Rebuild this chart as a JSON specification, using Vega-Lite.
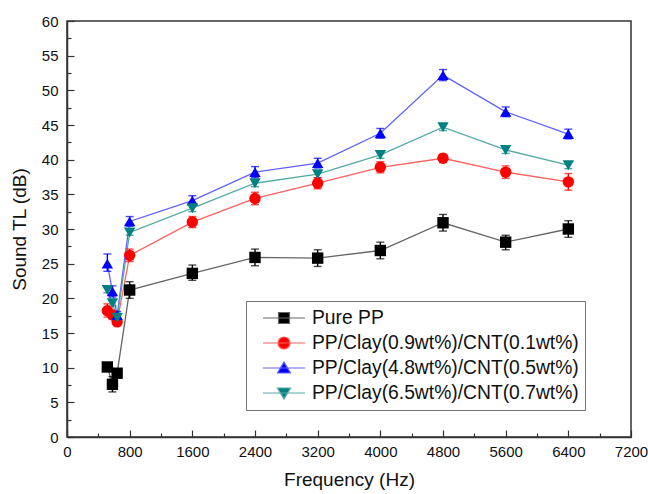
{
  "$schema": "https://vega.github.io/schema/vega-lite/v6.json",
  "autosize": "none",
  "width": 564,
  "height": 416,
  "padding": {"left": 67, "top": 21, "right": 17, "bottom": 57},
  "background": "white",
  "config": {
    "font": "Liberation Sans",
    "view": {"stroke": "#333", "strokeWidth": 1.5},
    "axis": {"grid": false, "domainColor": "#333", "domainWidth": 1.5, "tickColor": "#333", "tickWidth": 1.2, "labelColor": "#111", "titleColor": "#111", "labelFontSize": 15, "titleFontSize": 19, "titleFontWeight": "normal"}
  },
  "data": {"values": [
    {"s": "Pure PP", "f": 515, "tl": 10.1, "lo": 9.7, "hi": 10.5},
    {"s": "Pure PP", "f": 580, "tl": 7.6, "lo": 6.5, "hi": 8.7},
    {"s": "Pure PP", "f": 640, "tl": 9.2, "lo": 8.9, "hi": 9.5},
    {"s": "Pure PP", "f": 800, "tl": 21.2, "lo": 20.0, "hi": 22.4},
    {"s": "Pure PP", "f": 1600, "tl": 23.6, "lo": 22.6, "hi": 24.8},
    {"s": "Pure PP", "f": 2400, "tl": 25.9, "lo": 24.7, "hi": 27.1},
    {"s": "Pure PP", "f": 3200, "tl": 25.8, "lo": 24.6, "hi": 27.0},
    {"s": "Pure PP", "f": 4000, "tl": 26.9, "lo": 25.7, "hi": 28.1},
    {"s": "Pure PP", "f": 4800, "tl": 30.9, "lo": 29.7, "hi": 32.1},
    {"s": "Pure PP", "f": 5600, "tl": 28.1, "lo": 27.0, "hi": 29.1},
    {"s": "Pure PP", "f": 6400, "tl": 30.0, "lo": 28.8, "hi": 31.2},
    {"s": "PP/Clay(0.9wt%)/CNT(0.1wt%)", "f": 515, "tl": 18.2, "lo": 17.3, "hi": 19.2},
    {"s": "PP/Clay(0.9wt%)/CNT(0.1wt%)", "f": 580, "tl": 17.6, "lo": 17.0, "hi": 18.2},
    {"s": "PP/Clay(0.9wt%)/CNT(0.1wt%)", "f": 640, "tl": 16.6, "lo": 16.1, "hi": 17.1},
    {"s": "PP/Clay(0.9wt%)/CNT(0.1wt%)", "f": 800, "tl": 26.2, "lo": 25.3, "hi": 27.1},
    {"s": "PP/Clay(0.9wt%)/CNT(0.1wt%)", "f": 1600, "tl": 31.0, "lo": 30.2, "hi": 31.8},
    {"s": "PP/Clay(0.9wt%)/CNT(0.1wt%)", "f": 2400, "tl": 34.4, "lo": 33.5, "hi": 35.3},
    {"s": "PP/Clay(0.9wt%)/CNT(0.1wt%)", "f": 3200, "tl": 36.6, "lo": 35.8, "hi": 37.4},
    {"s": "PP/Clay(0.9wt%)/CNT(0.1wt%)", "f": 4000, "tl": 38.9, "lo": 38.1, "hi": 39.7},
    {"s": "PP/Clay(0.9wt%)/CNT(0.1wt%)", "f": 4800, "tl": 40.2, "lo": 39.6, "hi": 40.8},
    {"s": "PP/Clay(0.9wt%)/CNT(0.1wt%)", "f": 5600, "tl": 38.2, "lo": 37.3, "hi": 39.1},
    {"s": "PP/Clay(0.9wt%)/CNT(0.1wt%)", "f": 6400, "tl": 36.8, "lo": 35.6, "hi": 38.0},
    {"s": "PP/Clay(4.8wt%)/CNT(0.5wt%)", "f": 515, "tl": 25.0, "lo": 23.9, "hi": 26.4},
    {"s": "PP/Clay(4.8wt%)/CNT(0.5wt%)", "f": 580, "tl": 21.0, "lo": 20.2, "hi": 21.8},
    {"s": "PP/Clay(4.8wt%)/CNT(0.5wt%)", "f": 640, "tl": 17.6, "lo": 17.1, "hi": 18.1},
    {"s": "PP/Clay(4.8wt%)/CNT(0.5wt%)", "f": 800, "tl": 31.1, "lo": 30.4, "hi": 31.8},
    {"s": "PP/Clay(4.8wt%)/CNT(0.5wt%)", "f": 1600, "tl": 34.1, "lo": 33.4, "hi": 34.8},
    {"s": "PP/Clay(4.8wt%)/CNT(0.5wt%)", "f": 2400, "tl": 38.2, "lo": 37.4, "hi": 39.0},
    {"s": "PP/Clay(4.8wt%)/CNT(0.5wt%)", "f": 3200, "tl": 39.5, "lo": 38.8, "hi": 40.2},
    {"s": "PP/Clay(4.8wt%)/CNT(0.5wt%)", "f": 4000, "tl": 43.8, "lo": 43.1, "hi": 44.5},
    {"s": "PP/Clay(4.8wt%)/CNT(0.5wt%)", "f": 4800, "tl": 52.2, "lo": 51.4, "hi": 53.0},
    {"s": "PP/Clay(4.8wt%)/CNT(0.5wt%)", "f": 5600, "tl": 46.9, "lo": 46.2, "hi": 47.6},
    {"s": "PP/Clay(4.8wt%)/CNT(0.5wt%)", "f": 6400, "tl": 43.7, "lo": 43.0, "hi": 44.4},
    {"s": "PP/Clay(6.5wt%)/CNT(0.7wt%)", "f": 515, "tl": 21.2, "lo": 20.8, "hi": 21.6},
    {"s": "PP/Clay(6.5wt%)/CNT(0.7wt%)", "f": 580, "tl": 19.3, "lo": 18.9, "hi": 19.7},
    {"s": "PP/Clay(6.5wt%)/CNT(0.7wt%)", "f": 640, "tl": 17.2, "lo": 16.8, "hi": 17.6},
    {"s": "PP/Clay(6.5wt%)/CNT(0.7wt%)", "f": 800, "tl": 29.5, "lo": 29.1, "hi": 29.9},
    {"s": "PP/Clay(6.5wt%)/CNT(0.7wt%)", "f": 1600, "tl": 33.0, "lo": 32.5, "hi": 33.5},
    {"s": "PP/Clay(6.5wt%)/CNT(0.7wt%)", "f": 2400, "tl": 36.6, "lo": 36.1, "hi": 37.1},
    {"s": "PP/Clay(6.5wt%)/CNT(0.7wt%)", "f": 3200, "tl": 37.9, "lo": 37.4, "hi": 38.4},
    {"s": "PP/Clay(6.5wt%)/CNT(0.7wt%)", "f": 4000, "tl": 40.7, "lo": 40.2, "hi": 41.2},
    {"s": "PP/Clay(6.5wt%)/CNT(0.7wt%)", "f": 4800, "tl": 44.7, "lo": 44.2, "hi": 45.2},
    {"s": "PP/Clay(6.5wt%)/CNT(0.7wt%)", "f": 5600, "tl": 41.4, "lo": 40.9, "hi": 41.9},
    {"s": "PP/Clay(6.5wt%)/CNT(0.7wt%)", "f": 6400, "tl": 39.2, "lo": 38.7, "hi": 39.7}
  ]},
  "encoding": {
    "x": {
      "field": "f", "type": "quantitative",
      "scale": {"domain": [0, 7200], "nice": false, "zero": false},
      "axis": {
        "title": "Frequency (Hz)",
        "format": "d",
        "values": [0,400,800,1200,1600,2000,2400,2800,3200,3600,4000,4400,4800,5200,5600,6000,6400,6800,7200],
        "labelExpr": "datum.value % 800 === 0 ? datum.label : ''",
        "tickSize": {"condition": {"test": "datum.value % 800 === 0", "value": -7}, "value": -4},
        "labelPadding": 14,
        "titlePadding": 8,
        "labelFlush": false,
        "labelOverlap": false
      }
    },
    "y": {
      "field": "tl", "type": "quantitative",
      "scale": {"domain": [0, 60], "nice": false, "zero": false},
      "axis": {
        "title": "Sound TL (dB)",
        "values": [0,2.5,5,7.5,10,12.5,15,17.5,20,22.5,25,27.5,30,32.5,35,37.5,40,42.5,45,47.5,50,52.5,55,57.5,60],
        "labelExpr": "datum.value % 5 === 0 ? datum.label : ''",
        "tickSize": {"condition": {"test": "datum.value % 5 === 0", "value": -7}, "value": -4},
        "labelPadding": 16,
        "titlePadding": 12,
        "labelFlush": false,
        "labelOverlap": false
      }
    }
  },
  "layer": [
    {
      "mark": {"type": "line", "strokeWidth": 1.3},
      "encoding": {
        "detail": {"field": "s"},
        "stroke": {"field": "s", "type": "nominal",
          "scale": {"domain": ["Pure PP", "PP/Clay(0.9wt%)/CNT(0.1wt%)", "PP/Clay(4.8wt%)/CNT(0.5wt%)", "PP/Clay(6.5wt%)/CNT(0.7wt%)"],
                    "range": ["#666666", "#ff6060", "#6262ff", "#55aaa4"]},
          "legend": {
            "title": null,
            "orient": "none",
            "legendX": 179,
            "legendY": 280,
            "padding": 6,
            "strokeColor": "#777777",
            "fillColor": "white",
            "symbolSize": 400,
            "symbolStrokeWidth": 1.2,
            "labelOffset": 38,
            "labelFontSize": 19.3,
            "labelColor": "#111",
            "labelLimit": 400,
            "rowPadding": 3,
            "encode": {
              "symbols": {
                "update": {
                  "shape": {"signal": "datum.value === 'Pure PP' ? 'M0,0H4.2M1.55,-0.55H2.65V0.55H1.55Z' : datum.value === 'PP/Clay(0.9wt%)/CNT(0.1wt%)' ? 'M0,0H4.2M1.5,0A0.6,0.6,0,1,1,2.7,0A0.6,0.6,0,1,1,1.5,0Z' : datum.value === 'PP/Clay(4.8wt%)/CNT(0.5wt%)' ? 'M0,0H4.2M2.1,-0.6L2.75,0.5H1.45Z' : 'M0,0H4.2M2.1,0.6L2.75,-0.5H1.45Z'"},
                  "size": {"value": 400},
                  "strokeWidth": {"value": 1.2}
                }
              }
            }
          }
        }
      }
    },
    {
      "mark": {"type": "rule", "strokeWidth": 1.4},
      "encoding": {
        "y": {"field": "lo", "type": "quantitative"},
        "y2": {"field": "hi"},
        "color": {"field": "s", "type": "nominal", "legend": null,
          "scale": {"domain": ["Pure PP", "PP/Clay(0.9wt%)/CNT(0.1wt%)", "PP/Clay(4.8wt%)/CNT(0.5wt%)", "PP/Clay(6.5wt%)/CNT(0.7wt%)"],
                    "range": ["#000000", "#ff0000", "#0000ff", "#008080"]}}
      }
    },
    {
      "mark": {"type": "tick", "orient": "horizontal", "size": 8, "thickness": 1.4},
      "encoding": {
        "y": {"field": "lo", "type": "quantitative"},
        "color": {"field": "s", "type": "nominal", "legend": null}
      }
    },
    {
      "mark": {"type": "tick", "orient": "horizontal", "size": 8, "thickness": 1.4},
      "encoding": {
        "y": {"field": "hi", "type": "quantitative"},
        "color": {"field": "s", "type": "nominal", "legend": null}
      }
    },
    {
      "transform": [{"filter": {"field": "s", "equal": "Pure PP"}}],
      "mark": {"type": "point", "shape": "square", "filled": true, "size": 130, "opacity": 1, "strokeWidth": 0},
      "encoding": {
        "fill": {"field": "s", "type": "nominal",
          "scale": {"domain": ["Pure PP", "PP/Clay(0.9wt%)/CNT(0.1wt%)", "PP/Clay(4.8wt%)/CNT(0.5wt%)", "PP/Clay(6.5wt%)/CNT(0.7wt%)"],
                    "range": ["#000000", "#ff0000", "#0000ff", "#008080"]}}
      }
    },
    {
      "transform": [{"filter": {"field": "s", "equal": "PP/Clay(0.9wt%)/CNT(0.1wt%)"}}],
      "mark": {"type": "point", "shape": "circle", "filled": true, "size": 130, "opacity": 1, "strokeWidth": 0},
      "encoding": {
        "fill": {"field": "s", "type": "nominal"}
      }
    },
    {
      "transform": [{"filter": {"field": "s", "equal": "PP/Clay(4.8wt%)/CNT(0.5wt%)"}}],
      "mark": {"type": "point", "shape": "triangle-up", "filled": true, "size": 130, "opacity": 1, "strokeWidth": 0},
      "encoding": {
        "fill": {"field": "s", "type": "nominal"}
      }
    },
    {
      "transform": [{"filter": {"field": "s", "equal": "PP/Clay(6.5wt%)/CNT(0.7wt%)"}}],
      "mark": {"type": "point", "shape": "triangle-down", "filled": true, "size": 130, "opacity": 1, "strokeWidth": 0},
      "encoding": {
        "fill": {"field": "s", "type": "nominal"}
      }
    }
  ]
}
